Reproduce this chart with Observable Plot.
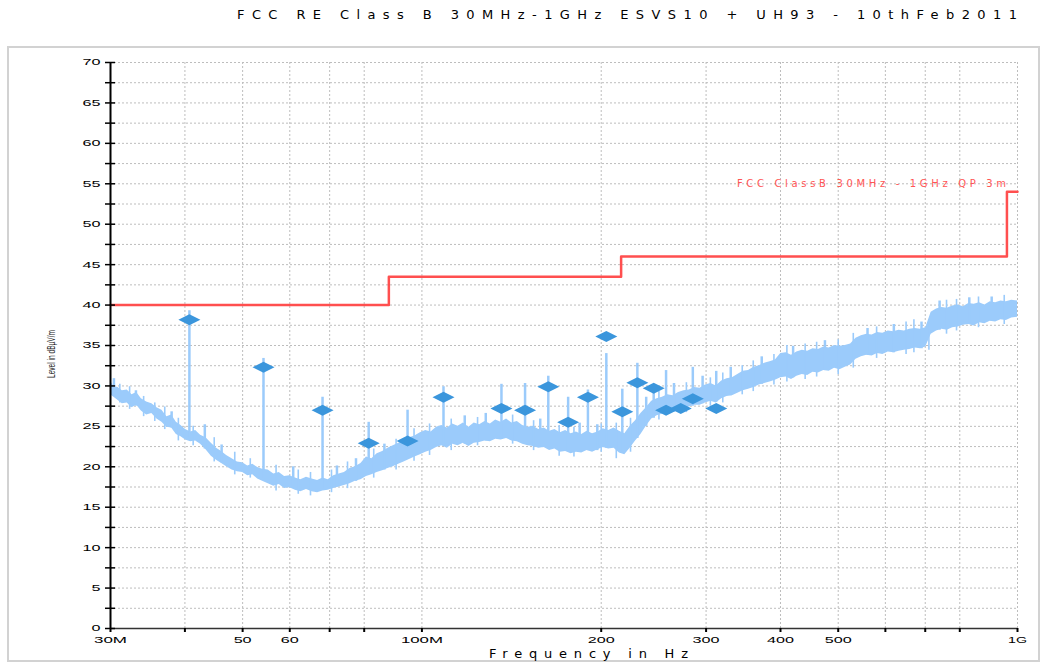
<!DOCTYPE html>
<html>
<head>
<meta charset="utf-8">
<script src="https://cdn.jsdelivr.net/npm/d3@7"></script>
<script src="https://cdn.jsdelivr.net/npm/@observablehq/plot@0.6"></script>
<style>
  html, body { margin: 0; padding: 0; background: #fff; }
  body { width: 1047px; height: 663px; position: relative; overflow: hidden; font-family: "Liberation Sans", Arial, sans-serif; }
  #chart { position: absolute; left: 0; top: 47px; }
  #frame { position: absolute; left: 7px; top: 46px; width: 1033px; height: 616px; box-sizing: border-box; border: 2px solid #d2d2d2; pointer-events: none; }
  #texts { position: absolute; left: 0; top: 0; pointer-events: none; }
</style>
</head>
<body>
<div id="chart"></div>
<div id="frame"></div>
<svg id="texts" width="1047" height="663"></svg>
<script>
// ---------- data ----------
const titleText = "FCC RE Class B 30MHz-1GHz ESVS10 + UH93 - 10thFeb2011";
const xAxisTitle = "Frequency in Hz";
const yAxisTitle = "Level in dBµV/m";
const limitName = "FCC ClassB 30MHz - 1GHz QP 3m";

const xTickValues = [30, 40, 50, 60, 70, 80, 100, 200, 300, 400, 500, 600, 700, 800, 1000];
const xTickLabels = ["30M", "", "50", "60", "", "80", "100M", "200", "300", "400", "500", "", "", "800", "1G"];
const yTickValues = [0,2.5,5,7.5,10,12.5,15,17.5,20,22.5,25,27.5,30,32.5,35,37.5,40,42.5,45,47.5,50,52.5,55,57.5,60,62.5,65,67.5,70];

// limit line (MHz, dBµV/m)
const limitFreq = [30, 88, 216, 960, 1000];
const limitLevel = [40, 43.5, 46, 54, 54];

// measured trace envelope (MHz, low dB, high dB)
const traceFreq = [
  30, 30.4, 30.9, 31.4, 32, 32.6, 33.2, 33.8, 34.5, 35.2,
  35.9, 36.6, 37.3, 38, 38.7, 39.4, 40.1, 40.9, 41.7, 42.5,
  43.4, 44.3, 45.2, 46.1, 47, 48, 49, 50, 51, 52,
  53, 54, 55.2, 56.4, 57.6, 58.8, 60, 61.3, 62.6, 64,
  65.4, 66.8, 68.2, 69.6, 71.1, 72.6, 74.1, 75.7, 77.3, 79,
  80.7, 82.4, 84.1, 85.9, 87.7, 89.5, 91.4, 93.3, 95.3, 97.3,
  99.4, 101.5, 103.6, 105.8, 108, 110.3, 112.6, 115, 117.4, 119.9,
  122.4, 125, 127.6, 130.3, 133, 135.8, 138.7, 141.6, 144.6, 147.6,
  150.7, 153.9, 157.1, 160.4, 163.8, 167.2, 170.7, 174.3, 178, 181.7,
  185.5, 189.4, 193.4, 197.5, 201.6, 205.9, 210.2, 214.6, 219.1, 223.7,
  228.4, 233.2, 238.1, 243.1, 248.2, 253.4, 258.7, 264.1, 269.7, 275.4,
  281.2, 287.1, 293.1, 299.3, 305.6, 312, 318.6, 325.3, 332.1, 339.1,
  346.2, 353.5, 360.9, 368.5, 376.2, 384.1, 392.2, 400.4, 408.8, 417.4,
  426.2, 435.1, 444.3, 453.6, 463.1, 472.8, 482.7, 492.9, 503.2, 513.8,
  524.6, 535.6, 546.8, 558.3, 570, 582, 594.2, 606.7, 619.4, 632.4,
  645.7, 659.2, 673, 687.1, 701.5, 716.2, 731.2, 746.5, 762.2, 778.2,
  794.5, 811.2, 828.2, 845.6, 863.3, 881.4, 899.9, 918.8, 938.1, 957.7, 977.8, 1000
];
const traceHigh = [
  30.6, 29.9, 29.8, 29.4, 29.5, 28.9, 29.2, 28.4, 28.0, 27.8,
  27.3, 27.0, 26.2, 26.4, 25.5, 25.1, 24.6, 24.3, 24.5, 23.9,
  23.6, 22.9, 22.3, 21.9, 21.4, 21.0, 20.6, 20.5, 20.1, 20.3,
  19.9, 19.7, 19.6, 19.1, 19.3, 18.8, 18.9, 18.6, 18.4, 18.7,
  18.5, 18.3, 18.6, 18.4, 18.9, 19.1, 19.3, 19.8, 20.0, 20.4,
  21.2, 21.0, 21.6, 21.9, 22.3, 22.6, 22.9, 23.2, 23.6, 23.8,
  24.2, 24.5, 24.3, 24.9, 25.1, 24.8, 25.3, 25.0, 25.4, 24.9,
  25.4, 25.2, 25.6, 25.3, 25.8, 25.5, 25.9, 25.4, 25.6, 25.1,
  24.9, 25.0, 24.6, 24.8, 24.4, 24.6, 24.2, 24.5, 24.1, 24.3,
  24.0, 24.4, 24.1, 24.3, 24.7, 24.5, 24.8, 24.4, 24.1, 25.0,
  25.7, 26.6, 27.3, 28.1, 28.4, 28.6, 28.9, 28.8, 29.2, 29.4,
  29.5, 29.8, 29.7, 30.1, 30.3, 30.0, 30.6, 30.9, 31.0, 31.4,
  31.8, 31.9, 32.3, 32.5, 32.8, 33.0, 33.2, 34.0, 34.1, 33.8,
  34.2, 34.4, 34.3, 34.6, 34.5, 34.8, 34.7, 35.0, 34.9, 35.0,
  35.2, 35.9, 36.2, 36.4, 36.3, 36.6, 36.5, 36.8, 36.7, 36.9,
  36.8, 37.0, 37.1, 37.0, 37.2, 39.1, 39.5, 39.7, 39.6, 39.9,
  40.0, 39.8, 40.2, 40.1, 40.3, 40.0, 40.4, 40.3, 40.5, 40.4, 40.6, 40.5
];
const traceLow = [
  28.9, 28.6, 28.2, 27.8, 27.9, 27.3, 27.6, 26.9, 26.4, 26.6,
  25.9, 25.5, 24.9, 24.8, 24.0, 23.7, 23.3, 23.1, 23.2, 22.8,
  22.1, 21.3, 20.8, 20.4, 20.0, 19.6, 19.4, 19.3, 18.9, 19.0,
  18.5, 18.2, 17.9, 17.6, 17.8, 17.3, 17.4, 17.1, 16.9, 17.2,
  16.9, 16.8, 17.0, 17.1, 17.3, 17.5, 17.7, 17.9, 18.2, 18.4,
  18.8, 19.0, 19.3, 19.5, 19.8, 20.0, 20.3, 20.6, 20.9, 21.2,
  21.5, 21.8, 22.0, 22.4, 22.6, 22.3, 22.8, 22.6, 22.9, 22.5,
  22.9, 23.0, 23.2, 23.1, 23.4, 23.3, 23.5, 23.2, 23.1, 22.8,
  22.6, 22.5, 22.3, 22.4, 22.0, 22.2, 21.8, 21.9, 21.6, 21.8,
  21.7, 22.0, 21.8, 22.1, 22.4, 22.2, 22.3, 21.7, 21.5, 22.3,
  23.2, 24.0, 25.0, 25.9, 26.3, 26.5, 26.8, 26.7, 27.0, 27.2,
  27.4, 27.6, 27.6, 27.9, 28.1, 27.9, 28.4, 28.7, 28.8, 29.1,
  29.4, 29.6, 29.8, 30.1, 30.3, 30.5, 30.7, 31.0, 31.1, 30.8,
  31.2, 31.4, 31.3, 31.7, 31.6, 31.9, 31.8, 32.2, 32.0, 32.3,
  32.6, 33.3, 33.6, 33.8, 33.7, 34.0, 33.9, 34.2, 34.1, 34.3,
  34.4, 34.5, 34.7, 34.6, 34.8, 36.4, 36.8, 37.0, 36.9, 37.2,
  37.3, 37.5, 37.6, 37.4, 37.8, 37.7, 38.0, 37.9, 38.2, 38.1, 38.4, 38.5
];

// narrow emission spikes rising out of the trace
const spikeFreq = [40.7, 54.2, 68.1, 81.4, 94.6, 108.7, 136, 149, 163, 176, 190, 204, 217, 230, 245, 257, 285, 312,
  30.4, 33.1, 38, 43.2, 46.1, 60.8, 72, 77.5, 86.5, 118, 128, 158, 184, 197, 238, 265, 296, 330, 372, 420, 475, 560, 620, 690, 740, 830, 905];
const spikeBase = [23.5, 18.5, 17.2, 19.5, 21.0, 22.6, 23.4, 23.0, 22.3, 22.0, 22.0, 22.3, 21.7, 23.5, 26.0, 26.7, 27.5, 28.0,
  28.8, 27.5, 24.8, 22.2, 20.5, 17.4, 17.5, 18.2, 19.6, 22.8, 23.2, 22.4, 21.8, 22.0, 25.0, 26.8, 27.8, 28.8, 30.2, 31.0, 31.9, 33.8, 34.1, 34.6, 36.9, 37.6, 38.0];
const spikeTop = [39.3, 33.4, 28.6, 25.5, 27.0, 29.9, 30.2, 30.3, 31.2, 28.6, 29.5, 34.0, 29.6, 32.8, 29.7, 31.9, 32.3, 31.8,
  30.9, 29.4, 26.8, 25.2, 22.7, 20.0, 20.1, 21.0, 22.8, 26.3, 26.6, 25.9, 25.4, 25.2, 28.6, 30.3, 31.2, 32.3, 33.6, 34.9, 35.6, 37.1, 37.6, 37.9, 40.5, 40.9, 41.0];

// fine noise hairs on the trace edges
const hairFreq = [31.1, 32.3, 34.1, 35.6, 37.0, 39.0, 41.3, 44.8, 48.5, 51.5, 56.9, 62.0, 65.0, 70.5, 75.0, 83.0, 90.5, 97.0,
  103, 112, 124, 142, 154, 170, 180, 200, 212, 224, 250, 278, 305, 320, 345, 360, 390, 410, 440, 460, 500, 530, 580, 650, 670, 710, 760, 790, 860, 950];
const hairLow = [27.9, 27.1, 26.2, 25.6, 24.6, 23.2, 22.6, 20.6, 19.0, 18.6, 17.0, 16.6, 16.4, 16.8, 17.3, 18.6, 19.6, 20.7,
  21.4, 22.0, 22.6, 22.8, 22.0, 21.3, 21.2, 21.8, 21.0, 21.8, 25.8, 26.7, 27.5, 27.9, 28.9, 29.3, 30.1, 30.5, 30.8, 31.1, 31.4, 32.2, 33.4, 33.9, 34.1, 34.4, 36.4, 36.8, 37.2, 37.6];
const hairTop = [30.2, 29.9, 28.7, 27.9, 27.4, 26.0, 25.0, 23.6, 21.8, 21.0, 20.2, 19.6, 19.3, 19.6, 20.6, 22.2, 23.4, 24.7,
  25.3, 25.9, 26.1, 26.4, 25.7, 25.1, 24.9, 25.3, 25.4, 26.0, 29.3, 30.4, 31.0, 31.6, 32.5, 33.1, 33.9, 35.0, 35.2, 35.4, 35.7, 36.5, 37.3, 37.9, 38.2, 37.8, 40.6, 40.7, 41.0, 41.2];

// quasi-peak markers
const markerFreq = [40.7, 54.2, 68.1, 81.4, 94.6, 108.7, 136, 149, 163, 176, 190, 204, 217, 230, 245, 257, 272, 285, 312];
const markerLevel = [38.2, 32.3, 27.0, 22.9, 23.2, 28.6, 27.2, 27.0, 29.9, 25.5, 28.6, 36.1, 26.8, 30.4, 29.7, 27.0, 27.2, 28.4, 27.2];

// ---------- build ----------
const trace = traceFreq.map((f, i) => ({f, lo: traceLow[i], hi: traceHigh[i]}));
const spikes = spikeFreq.map((f, i) => ({f, lo: spikeBase[i], hi: spikeTop[i]}));
const hairs = hairFreq.map((f, i) => ({f, lo: hairLow[i], hi: hairTop[i]}));
const markers = markerFreq.map((f, i) => ({f, v: markerLevel[i]}));
const limit = limitFreq.map((f, i) => ({f, v: limitLevel[i]}));
const xLabelOf = new Map(xTickValues.map((v, i) => [v, xTickLabels[i]]));

const flatDiamond = {
  draw(ctx) {
    ctx.moveTo(-11, 0); ctx.lineTo(0, -5.5); ctx.lineTo(11, 0); ctx.lineTo(0, 5.5); ctx.closePath();
  }
};

const traceColor = "#9bcbfb";
const gridStyle = {stroke: "#bdbdbd", strokeOpacity: 1, strokeDasharray: "2,2", strokeWidth: 1};

const chart = Plot.plot({
  width: 1047,
  height: 616,
  marginLeft: 110,
  marginRight: 30,
  marginTop: 15,
  marginBottom: 35,
  style: {background: "transparent", fontFamily: "Liberation Sans, Arial, sans-serif", color: "#000"},
  x: {type: "log", domain: [30, 1000]},
  y: {domain: [0, 70]},
  marks: [
    Plot.gridX(xTickValues.filter(d => d > 30), gridStyle),
    Plot.gridY(yTickValues.filter(d => d > 0), gridStyle),
    Plot.areaY(trace, {x: "f", y1: "lo", y2: "hi", curve: "linear", fill: traceColor}),
    Plot.ruleX(hairs, {x: "f", y1: "lo", y2: "hi", stroke: traceColor, strokeWidth: 1.6}),
    Plot.ruleX(spikes, {x: "f", y1: "lo", y2: "hi", stroke: traceColor, strokeWidth: 2.5}),
    Plot.line(limit, {x: "f", y: "v", curve: "step-after", stroke: "#ff4f4f", strokeWidth: 2.5}),
    Plot.text([limitName], {x: limitFreq[3], y: limitLevel[3], text: d => d, textAnchor: "end", dx: -1, dy: -8, fill: "#ff5555", fontSize: 10, fontFamily: "DejaVu Sans, sans-serif"}),
    Plot.dot(markers, {x: "f", y: "v", symbol: flatDiamond, fill: "#3b96dc", stroke: "none"}),
    Plot.ruleY([0], {stroke: "#333", strokeWidth: 1.5}),
    Plot.ruleX([30], {stroke: "#000", strokeWidth: 2}),
    Plot.axisY(yTickValues, {tickSize: 10, tickPadding: 0, tickFormat: d => (d % 5 === 0 ? String(d) : ""), fontSize: 9, stroke: "#000", strokeWidth: 1.5, label: null}),
    Plot.axisX(xTickValues, {tickSize: 4, tickPadding: 4, tickFormat: d => xLabelOf.get(d), fontSize: 9, stroke: "#000", strokeWidth: 2, label: null})
  ]
});
document.getElementById("chart").append(chart);

// ---------- text fitting (reference uses stretched / spaced lettering) ----------
const charW = c => (c === "M" ? 15 : c === "G" ? 10 : 9);
function fitText(el, len, mode) {
  el.setAttribute("textLength", len);
  el.setAttribute("lengthAdjust", mode);
}
chart.querySelectorAll('g[aria-label="y-axis tick label"] text, g[aria-label="x-axis tick label"] text').forEach(t => {
  const s = t.textContent;
  if (!s) return;
  fitText(t, Array.from(s).reduce((a, c) => a + charW(c), 0), "spacingAndGlyphs");
});
chart.querySelectorAll('g[aria-label="y-axis tick"]').forEach(g => {
  g.setAttribute("transform", (g.getAttribute("transform") || "") + " translate(5,0)");
});
chart.querySelectorAll("text").forEach(t => {
  if (t.textContent === limitName) fitText(t, 269, "spacing");
});

// title and axis titles
const T = d3.select("#texts").attr("font-family", "DejaVu Sans, sans-serif");
T.append("text")
  .attr("x", 237).attr("y", 19).attr("font-size", 13)
  .attr("textLength", 780).attr("lengthAdjust", "spacing")
  .text(titleText);
T.append("text")
  .attr("x", 489).attr("y", 658).attr("font-size", 13)
  .attr("textLength", 199).attr("lengthAdjust", "spacing")
  .text(xAxisTitle);
T.append("text")
  .attr("transform", "translate(55,378) rotate(-90)")
  .attr("font-family", "Liberation Sans, Arial, sans-serif")
  .attr("font-size", 11).attr("fill", "#222")
  .attr("textLength", 48).attr("lengthAdjust", "spacingAndGlyphs")
  .text(yAxisTitle);
</script>
</body>
</html>
